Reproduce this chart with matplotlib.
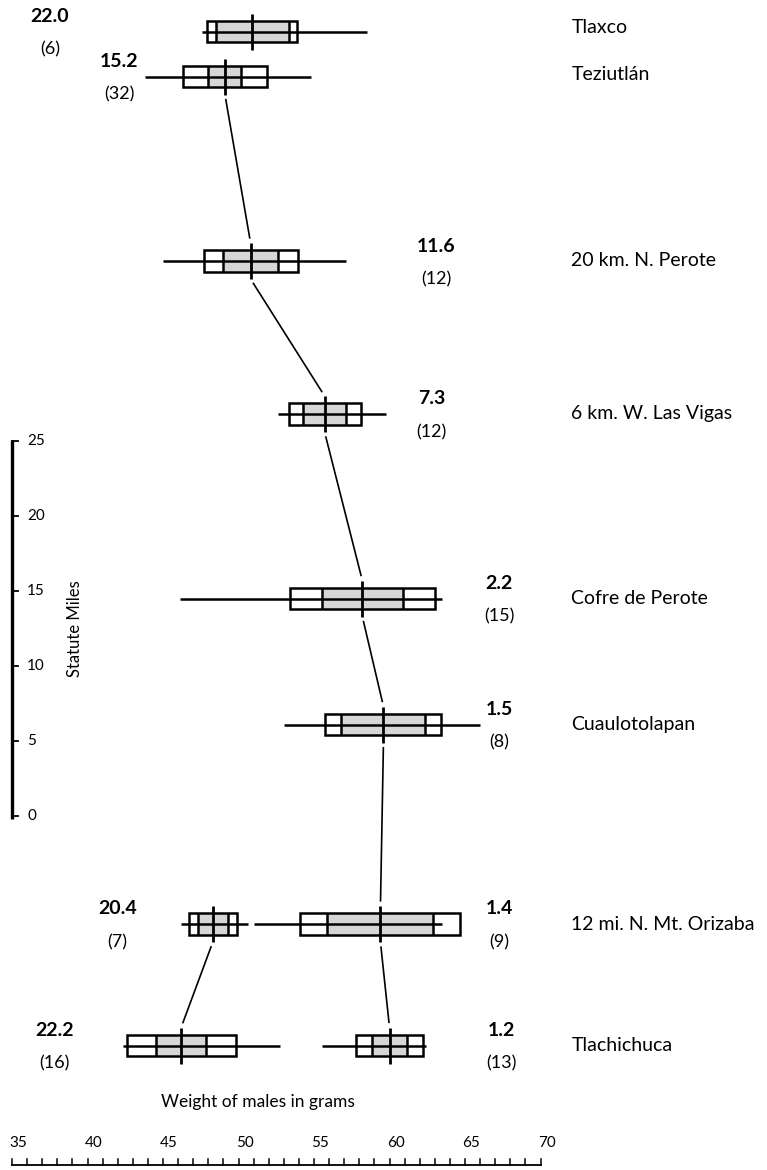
import matplotlib
matplotlib.use("Agg")
import matplotlib.pyplot as plt
from matplotlib.patches import Rectangle
import numpy as np

plt.rcParams['font.family'] = ['Lato', 'DejaVu Sans']

# ---------------- data ----------------
site_names = ["Tlaxco", "Teziutlán", "20 km. N. Perote", "6 km. W. Las Vigas",
              "Cofre de Perote", "Cuaulotolapan", "12 mi. N. Mt. Orizaba", "Tlachichuca"]
site_miles = [52.3, 49.3, 37.0, 26.8, 14.5, 6.1, -7.2, -15.3]

# samples (two samples at the last two sites)
sample_site = [0, 1, 2, 3, 4, 5, 6, 6, 7, 7]
means  = [50.9, 49.1, 50.8, 55.7, 58.2, 59.6, 48.3, 59.4, 46.2, 60.0]
sds    = [2.98, 2.78, 3.11, 2.38, 4.80, 3.84, 1.59, 5.30, 3.61, 2.22]
two_se = [2.42, 1.09, 1.82, 1.42, 2.68, 2.78, 0.99, 3.51, 1.66, 1.16]
mins   = [47.6, 43.8, 45.0, 52.6, 46.1, 53.0, 46.2, 51.0, 42.35, 55.5]
maxs   = [58.5, 54.8, 57.1, 59.8, 63.5, 66.0, 50.6, 63.5, 52.75, 62.4]
cv_labels = ["22.0", "15.2", "11.6", "7.3", "2.2", "1.5", "20.4", "1.4", "22.2", "1.2"]
n_sizes = [6, 32, 12, 12, 15, 8, 7, 9, 16, 13]

# which sample means are joined
links = [(1, 2), (2, 3), (3, 4), (4, 5), (5, 7), (7, 9), (6, 8)]

mile_ticks = [0, 5, 10, 15, 20, 25]
gram_ticks = [35, 40, 45, 50, 55, 60, 65, 70]

# ---------------- layout ----------------
label_x = [37.5, 42.1, 63.1, 62.8, 67.25, 67.25, 42.0, 67.3, 37.8, 67.4]
name_x = 72.05
name_dy = [0.27, 0.13, 0, 0, 0, 0, 0, 0]

fig = plt.figure(figsize=(7.67, 11.70), dpi=100)
ax = fig.add_axes([0, 0, 1, 1])
ax.set_xlim(34.205, 85.0)
ax.set_ylim(-23.6, 54.4)
ax.axis('off')

lw = 1.8
box_h = 0.71
mean_h = 1.2
shade = '#d6d6d6'

for i in range(len(means)):
    y = site_miles[sample_site[i]]
    m, sd, se2 = means[i], sds[i], two_se[i]
    ax.add_patch(Rectangle((m - se2, y - box_h), 2 * se2, 2 * box_h,
                           facecolor=shade, edgecolor='none', zorder=1))
    ax.plot([mins[i], maxs[i]], [y, y], color='black', lw=lw, zorder=3,
            solid_capstyle='butt')
    ax.add_patch(Rectangle((m - sd, y - box_h), 2 * sd, 2 * box_h,
                           fill=False, edgecolor='black', lw=lw, zorder=3))
    ax.vlines([m - se2, m + se2], y - box_h, y + box_h, color='black', lw=lw, zorder=3)
    ax.vlines(m, y - mean_h, y + mean_h, color='black', lw=2.0, zorder=4)
    ax.text(label_x[i], y + 1.0, cv_labels[i], ha='center', va='center',
            fontsize=14, fontweight='bold')
    ax.text(label_x[i], y - 1.2, f"({n_sizes[i]})", ha='center', va='center',
            fontsize=13)

for a, b in links:
    x0, y0 = means[a], site_miles[sample_site[a]] - mean_h
    x1, y1 = means[b], site_miles[sample_site[b]] + mean_h
    d = np.hypot(x1 - x0, y1 - y0)
    g = 0.35
    ux, uy = (x1 - x0) / d, (y1 - y0) / d
    ax.plot([x0 + ux * g, x1 - ux * g], [y0 + uy * g, y1 - uy * g],
            color='black', lw=1.2, zorder=2)

for k, name in enumerate(site_names):
    ax.text(name_x, site_miles[k] + name_dy[k], name, ha='left', va='center',
            fontsize=14)

# miles scale bar
sx = 35.0
ax.plot([sx, sx], [mile_ticks[0] - 0.2, mile_ticks[-1] + 0.1], color='black',
        lw=2.4, solid_capstyle='butt')
for t in mile_ticks:
    ax.plot([sx, sx + 0.4], [t, t], color='black', lw=1.3)
    ax.text(sx + 1.0, t, str(t), ha='left', va='center', fontsize=11)
ax.text(39.2, 12.5, "Statute Miles", rotation=90, ha='center', va='center',
        fontsize=12)

# gram scale
yb = -23.27
ax.plot([gram_ticks[0], gram_ticks[-1]], [yb, yb], color='black', lw=1.3)
for t in np.arange(gram_ticks[0], gram_ticks[-1] + 1, 1):
    ax.plot([t, t], [yb, yb + 0.4], color='black', lw=1.1)
for t in gram_ticks:
    ax.text(t + 0.4, yb + 1.45, str(t), ha='center', va='center', fontsize=11)
ax.text(51.3, -19.1, "Weight of males in grams", ha='center', va='center',
        fontsize=12.5)

fig.savefig("out.png", dpi=100)
